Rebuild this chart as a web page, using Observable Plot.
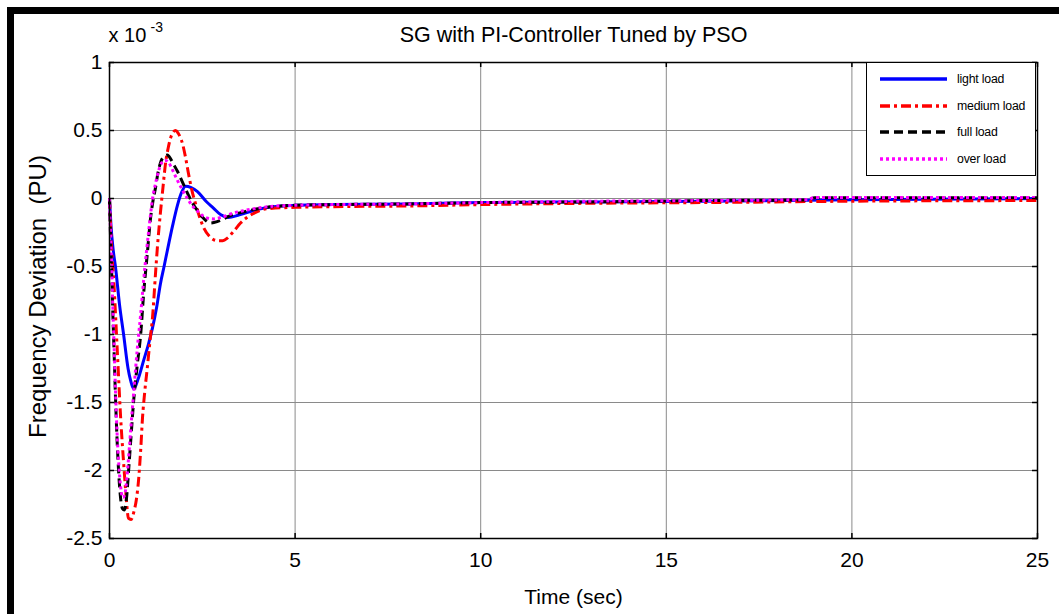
<!DOCTYPE html>
<html>
<head>
<meta charset="utf-8">
<script src="https://cdn.jsdelivr.net/npm/d3@7"></script>
<script src="https://cdn.jsdelivr.net/npm/@observablehq/plot@0.6"></script>
<style>
  html, body { margin: 0; padding: 0; background: #fff; }
  #wrap { position: relative; width: 1059px; height: 614px; overflow: hidden; background: #fff; }
  #frameTop { position: absolute; left: 7px; top: 7px; right: 0; height: 7px; background: #000; }
  #frameLeft { position: absolute; left: 7px; top: 7px; width: 7px; bottom: 0; background: #000; }
  #legend { position: absolute; left: 866px; top: 62px; width: 168px; height: 112px; border: 1px solid #000; background: #fff; font-family: "Liberation Sans", Arial, sans-serif; }
  .row { position: absolute; left: 0; height: 20px; width: 100%; }
  .row svg { position: absolute; left: 13px; top: 5px; }
  .row span { position: absolute; left: 90px; top: 2px; font-size: 12.3px; line-height: 16px; color: #000; white-space: nowrap; letter-spacing: -0.2px; }
</style>
</head>
<body>
<div id="wrap">
  <div id="chart"></div>
  <div id="frameTop"></div>
  <div id="frameLeft"></div>
  <div id="legend"></div>
</div>
<script>
// ---- data (values in units of 1e-3 PU) ----
const lightT = [0, 0.04, 0.1, 0.16, 0.27, 0.38, 0.5, 0.57, 0.65, 0.78, 0.92, 1.05, 1.16, 1.27, 1.37, 1.47, 1.56, 1.7, 1.83, 1.95, 2.05, 2.2, 2.37, 2.6, 2.8, 3.0, 3.2, 3.5, 4.0, 4.4, 5, 6, 8, 10, 13, 16, 20, 25];
const lightV = [0, -0.2, -0.38, -0.5, -0.78, -1.0, -1.25, -1.34, -1.40, -1.32, -1.19, -1.07, -0.95, -0.8, -0.63, -0.5, -0.38, -0.2, -0.05, 0.05, 0.09, 0.08, 0.05, -0.02, -0.07, -0.12, -0.14, -0.12, -0.08, -0.06, -0.05, -0.045, -0.04, -0.03, -0.025, -0.02, -0.01, 0];

const mediumT = [0, 0.03, 0.06, 0.12, 0.21, 0.3, 0.39, 0.45, 0.51, 0.58, 0.66, 0.72, 0.78, 0.84, 0.89, 0.95, 1.02, 1.09, 1.16, 1.24, 1.29, 1.37, 1.44, 1.51, 1.58, 1.64, 1.72, 1.78, 1.85, 1.97, 2.05, 2.13, 2.22, 2.32, 2.42, 2.53, 2.7, 2.91, 3.05, 3.18, 3.35, 3.53, 3.7, 3.88, 4.25, 5, 6, 8, 10, 13, 16, 20, 25];
const mediumV = [0, -0.2, -0.38, -0.63, -1.12, -1.61, -1.98, -2.2, -2.35, -2.36, -2.3, -2.22, -2.08, -1.85, -1.61, -1.42, -1.24, -1.05, -0.87, -0.55, -0.36, -0.11, 0.08, 0.26, 0.37, 0.44, 0.49, 0.5, 0.48, 0.40, 0.3, 0.18, 0.06, -0.04, -0.13, -0.21, -0.28, -0.31, -0.31, -0.29, -0.24, -0.18, -0.14, -0.11, -0.075, -0.065, -0.06, -0.055, -0.045, -0.035, -0.03, -0.02, -0.015];

const fullT = [0, 0.03, 0.06, 0.09, 0.12, 0.16, 0.2, 0.24, 0.29, 0.35, 0.4, 0.46, 0.52, 0.58, 0.65, 0.75, 0.84, 0.92, 1.02, 1.1, 1.17, 1.24, 1.3, 1.37, 1.47, 1.56, 1.65, 1.75, 1.83, 1.95, 2.1, 2.25, 2.37, 2.55, 2.72, 2.9, 3.07, 3.3, 3.6, 4.0, 4.25, 5, 6, 8, 10, 13, 16, 18.8, 19, 22, 25];
const fullV = [0, -0.3, -0.55, -0.85, -1.1, -1.45, -1.75, -1.98, -2.18, -2.28, -2.29, -2.2, -1.98, -1.75, -1.49, -1.22, -1.0, -0.7, -0.4, -0.16, -0.02, 0.08, 0.18, 0.26, 0.31, 0.32, 0.29, 0.24, 0.2, 0.13, 0.04, -0.04, -0.09, -0.15, -0.18, -0.17, -0.15, -0.12, -0.10, -0.075, -0.065, -0.05, -0.045, -0.04, -0.03, -0.025, -0.015, -0.01, 0.005, 0.005, 0.005];

const overT = [0, 0.03, 0.06, 0.09, 0.12, 0.16, 0.2, 0.25, 0.3, 0.36, 0.41, 0.47, 0.53, 0.6, 0.66, 0.75, 0.84, 0.92, 1.0, 1.08, 1.16, 1.24, 1.32, 1.4, 1.5, 1.58, 1.68, 1.8, 1.95, 2.1, 2.25, 2.4, 2.6, 2.8, 3.0, 3.3, 3.6, 4.0, 4.5, 5, 6, 8, 10, 13, 16, 18.8, 19, 22, 25];
const overV = [0, -0.28, -0.5, -0.8, -1.05, -1.4, -1.7, -1.95, -2.12, -2.2, -2.18, -2.05, -1.85, -1.6, -1.4, -1.1, -0.85, -0.6, -0.38, -0.18, 0.0, 0.11, 0.2, 0.26, 0.28, 0.27, 0.22, 0.15, 0.07, 0.0, -0.06, -0.1, -0.14, -0.15, -0.14, -0.11, -0.09, -0.07, -0.055, -0.05, -0.045, -0.04, -0.03, -0.02, -0.015, -0.008, 0.008, 0.008, 0.008];

const seriesNames = ["light load", "medium load", "full load", "over load"];
const seriesColors = ["#0000ff", "#ff0000", "#000000", "#ff00ff"];
const seriesDash = [null, "10,4,3,4", "9,5", "3,3"];

const xTicks = [0, 5, 10, 15, 20, 25];
const yTicks = [1, 0.5, 0, -0.5, -1, -1.5, -2, -2.5];
const xTickLabels = ["0", "5", "10", "15", "20", "25"];
const yTickLabels = ["1", "0.5", "0", "-0.5", "-1", "-1.5", "-2", "-2.5"];

const titleText = "SG with PI-Controller Tuned by PSO";
const xLabel = "Time (sec)";
const yLabel = "Frequency Deviation  (PU)";
const expBase = "x 10";
const expPow = "-3";

// ---- build ----
const W = 1059, H = 614;
const mL = 109, mR = 22, mT = 62, mB = 76;
const plotW = W - mL - mR, plotH = H - mT - mB;

const series = [
  {name: seriesNames[0], t: lightT, v: lightV},
  {name: seriesNames[1], t: mediumT, v: mediumV},
  {name: seriesNames[2], t: fullT, v: fullV},
  {name: seriesNames[3], t: overT, v: overV}
];

const lineMarks = series.map((s, i) => {
  const rows = s.t.map((t, j) => ({t, v: s.v[j]}));
  return Plot.line(rows, {
    x: "t", y: "v", curve: "monotone-x",
    stroke: seriesColors[i], strokeWidth: 3,
    strokeDasharray: seriesDash[i], strokeLinecap: "butt", strokeLinejoin: "round"
  });
});

const labFont = "'Liberation Sans', Arial, sans-serif";

const chart = Plot.plot({
  width: W, height: H,
  marginLeft: mL, marginRight: mR, marginTop: mT, marginBottom: mB,
  style: {background: "transparent", color: "#000", fontFamily: labFont},
  x: {domain: [0, 25]},
  y: {domain: [-2.5, 1]},
  marks: [
    Plot.gridX(xTicks.slice(1, -1), {stroke: "#8a8a8a", strokeOpacity: 1, strokeWidth: 1}),
    Plot.gridY(yTicks.slice(1, -1), {stroke: "#8a8a8a", strokeOpacity: 1, strokeWidth: 1}),
    ...lineMarks,
    Plot.frame({stroke: "#000", strokeWidth: 1.5}),
    Plot.tickY(yTicks, {y: d => d, stroke: "#000", strokeWidth: 1.5, insetRight: plotW - 5}),
    Plot.tickY(yTicks, {y: d => d, stroke: "#000", strokeWidth: 1.5, insetLeft: plotW - 5}),
    Plot.tickX(xTicks, {x: d => d, stroke: "#000", strokeWidth: 1.5, insetTop: plotH - 5}),
    Plot.tickX(xTicks, {x: d => d, stroke: "#000", strokeWidth: 1.5, insetBottom: plotH - 5}),
    Plot.axisX(xTicks, {tickSize: 0, tickPadding: 14, tickFormat: d => xTickLabels[xTicks.indexOf(d)], label: null, fontSize: 21, fontFamily: labFont}),
    Plot.axisY(yTicks, {tickSize: 0, tickPadding: 7, tickFormat: d => yTickLabels[yTicks.indexOf(d)], label: null, fontSize: 21, fontFamily: labFont}),
    Plot.text([titleText], {text: d => d, frameAnchor: "top", lineAnchor: "middle", dy: -27, fontSize: 21.5, fontFamily: labFont}),
    Plot.text([xLabel], {text: d => d, frameAnchor: "bottom", lineAnchor: "middle", dy: 59, fontSize: 21, fontFamily: labFont}),
    Plot.text([yLabel], {text: d => d, frameAnchor: "left", textAnchor: "middle", lineAnchor: "middle", dx: -71, dy: -4, rotate: -90, fontSize: 24, fontFamily: labFont}),
    Plot.text([expBase], {text: d => d, frameAnchor: "top-left", textAnchor: "start", lineAnchor: "middle", dx: -1, dy: -27, fontSize: 20, fontFamily: labFont}),
    Plot.text([expPow], {text: d => d, frameAnchor: "top-left", textAnchor: "start", lineAnchor: "middle", dx: 41, dy: -35, fontSize: 14, fontFamily: labFont})
  ]
});
document.getElementById("chart").appendChild(chart);

// ---- legend ----
const legend = document.getElementById("legend");
seriesNames.forEach((name, i) => {
  const row = document.createElement("div");
  row.className = "row";
  row.style.top = (6 + i * 26.5) + "px";
  const svg = d3.create("svg").attr("width", 70).attr("height", 10);
  svg.append("line").attr("x1", 0).attr("x2", 67).attr("y1", 5).attr("y2", 5)
    .attr("stroke", seriesColors[i]).attr("stroke-width", 3.5)
    .attr("stroke-dasharray", seriesDash[i]);
  row.appendChild(svg.node());
  const sp = document.createElement("span");
  sp.textContent = name;
  row.appendChild(sp);
  legend.appendChild(row);
});
</script>
</body>
</html>
